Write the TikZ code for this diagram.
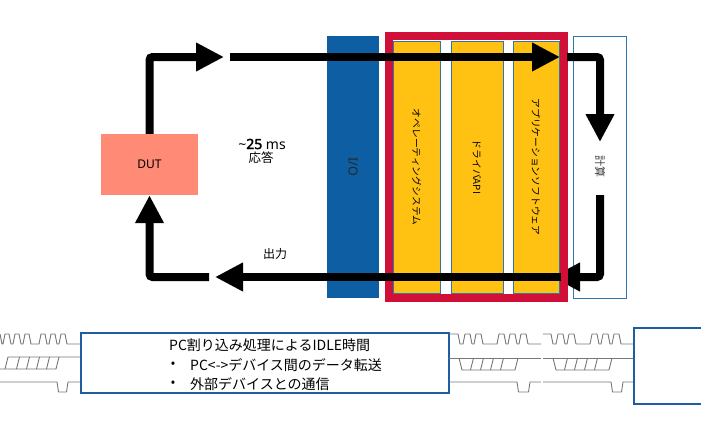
\documentclass[tikz,border=0pt]{standalone}
\usepackage{fontspec}
\setmainfont{Noto Sans CJK JP}
\newfontfamily\lat{Noto Sans}
\newfontfamily\latbold{Noto Sans}[FakeBold=2.5]
\usetikzlibrary{arrows.meta}
\definecolor{dutc}{RGB}{255,138,117}
\definecolor{ioblue}{RGB}{14,94,163}
\definecolor{ylw}{RGB}{255,194,18}
\definecolor{frred}{RGB}{208,16,56}
\definecolor{thinblue}{RGB}{46,117,182}
\definecolor{boxblue}{RGB}{31,93,163}
\definecolor{wave}{RGB}{120,120,120}
\begin{document}
\begin{tikzpicture}[x=1pt,y=-1pt,
 bigarrow/.style={line width=8pt, rounded corners=3pt, -{Triangle[length=28pt,width=27pt]}},
 colbox/.style={fill=ylw, draw=thinblue, line width=0.8pt, inner sep=0pt, minimum height=252pt},
 vlabel/.style={rotate=-90, font=\fontsize{9.8}{11}\selectfont, inner sep=0pt},
 wv/.style={draw=wave, line width=0.9pt, line join=round},
 txt/.style={inner sep=0pt},
]
\useasboundingbox (0,0) rectangle (701,442);

% I/O column
\node[fill=ioblue, minimum width=52pt, minimum height=262pt, inner sep=0pt] (io) at (353,167) {};
\node[vlabel, font=\lat\fontsize{12.5}{14}\selectfont, text=black!85] (iot) at (io.center) {I/O};

% software columns
\node[colbox, minimum width=47pt] (os) at (416.5,167) {};
\node[colbox, minimum width=52pt] (drv) at (477,167) {};
\node[colbox, minimum width=46pt] (app) at (536,167) {};
\node[vlabel] (ost) at (os.center) {オペレーティングシステム};
\node[vlabel] (drvt) at (drv.center) {ドライバAPI};
\node[vlabel] (appt) at (app.center) {アプリケーションソフトウェア};

% calc box
\node[draw=thinblue, fill=white, line width=0.8pt, minimum width=53pt, minimum height=262pt, inner sep=0pt] (calc) at (599.5,167) {};
\node[vlabel, font=\fontsize{11}{12}\selectfont, text=black!75] (calct) at (600,166) {計算};

% arrow coming back from calc (under the red frame)
\coordinate (r2s) at (600,195);
\coordinate (r2e) at (552,277);
\draw[bigarrow] (r2s) |- (r2e);

% red frame
\node[draw=frred, line width=8pt, minimum width=175pt, minimum height=262pt, inner sep=0pt] (frame) at (476.5,167) {};

% DUT
\node[fill=dutc, minimum width=97pt, minimum height=61pt, inner sep=0pt, font=\lat\fontsize{12}{14}\selectfont] (dut) at (149.5,164.5) {DUT};

% arrows
\coordinate (t1) at (224,57);
\coordinate (t2s) at (230,57);
\coordinate (t2e) at (560,57);
\coordinate (r1s) at (567,57);
\coordinate (r1e) at (600,142);
\coordinate (b1s) at (561,277);
\coordinate (b1e) at (215,277);
\coordinate (b2s) at (209,277);
\draw[bigarrow] (r1s) -| (r1e);
\draw[bigarrow] (t2s) -- (t2e);
\draw[bigarrow] (b1s) -- (b1e);
\draw[bigarrow] (dut.north) |- (t1);
\draw[bigarrow] (b2s) -| (dut.south);

% labels
\node[txt, font=\lat\fontsize{14}{16}\selectfont] (resp) at (262,144) {\textasciitilde{\latbold 25} ms};
\node[txt, font=\fontsize{12.5}{14}\selectfont] (resp2) at (261,158) {応答};
\node[txt, font=\fontsize{12}{14}\selectfont] (outl) at (275,254) {出力};

% bottom box
\node[draw=boxblue, line width=1.5pt, minimum width=368pt, minimum height=60pt, inner sep=0pt] (idle) at (265,363) {};
\node[txt, anchor=west, font=\fontsize{14}{16}\selectfont] (l1) at (169,345) {PC割り込み処理によるIDLE時間};
\node[txt, font=\fontsize{13}{16}\selectfont] (bu1) at (173,365) {•};
\node[txt, anchor=west, font=\fontsize{14}{16}\selectfont] (l2) at (190,365) {PC<->デバイス間のデータ転送};
\node[txt, font=\fontsize{13}{16}\selectfont] (bu2) at (173,384) {•};
\node[txt, anchor=west, font=\fontsize{14}{16}\selectfont] (l3) at (190,384) {外部デバイスとの通信};

% right box (cut by the edge)
\draw[boxblue, line width=1.5pt] (708,328) -- (634,328) -- (634,404) -- (708,404);

% waveforms: signal 1
\draw[wv] (0,334) -- (2,344) -- (3,344)
  \foreach \i in {1,2,3}{ -- ++(2,-10) -- ++(4,0) -- ++(2,10) -- ++(2,0)}
  -- (39,344)
  \foreach \i in {1,2,3}{ -- ++(2,-10) -- ++(4,0) -- ++(2,10) -- ++(2,0)}
  -- (80,344);
\draw[wv] (449,334) -- (458,334) -- (460,344) -- (463,344)
  \foreach \i in {1,2}{ -- ++(2,-10) -- ++(5,0) -- ++(2,10) -- ++(2,0)}
  -- (497,344)
  \foreach \i in {1,2,3}{ -- ++(2,-10) -- ++(5,0) -- ++(2,10) -- ++(2,0)}
  -- (541,344);
\draw[wv] (543,334) -- (551,334) -- (553,344) -- (556,344)
  \foreach \i in {1,2}{ -- ++(2,-10) -- ++(5,0) -- ++(2,10) -- ++(2,0)}
  -- (590,344)
  \foreach \i in {1,2,3}{ -- ++(2,-10) -- ++(5,0) -- ++(2,10) -- ++(2,0)}
  -- (633,344);

% signal 2 (bus)
\draw[wv] (0,369) -- (56,369) -- (59,357);
\draw[wv] (5,369) -- (8,357) -- (80,357);
\foreach \x in {18,28,38,48} \draw[wv] (\x-1.5,369) -- (\x+1.5,357);
\draw[wv] (449,358) -- (541,358);
\draw[wv] (459,358) -- (462,370) -- (515,370) -- (518,358);
\foreach \x in {472,482,492,502} \draw[wv] (\x-1.5,370) -- (\x+1.5,358);
\draw[wv] (543,358) -- (633,358);
\draw[wv] (553,358) -- (556,370) -- (609,370) -- (612,358);
\foreach \x in {566,576,586,596} \draw[wv] (\x-1.5,370) -- (\x+1.5,358);

% signal 3
\draw[wv] (0,382) -- (57,382) -- (58.5,392) -- (66.5,392) -- (68,382) -- (80,382);
\draw[wv] (449,382) -- (517,382) -- (518.5,392) -- (528.5,392) -- (530,382) -- (541,382);
\draw[wv] (543,382) -- (611,382) -- (612.5,392) -- (621.5,392) -- (623,382) -- (633,382);
\end{tikzpicture}
\end{document}
